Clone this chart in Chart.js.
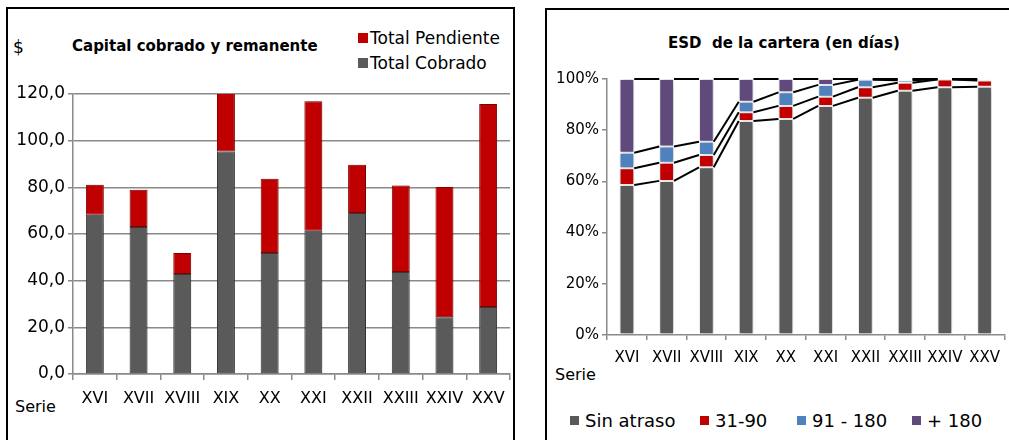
<!DOCTYPE html>
<html>
<head>
<meta charset="utf-8">
<script src="https://cdn.jsdelivr.net/npm/chart.js@4.4.1/dist/chart.umd.min.js"></script>
<style>
  html, body { margin: 0; padding: 0; background: #fff; }
  body { width: 1009px; height: 440px; position: relative; overflow: hidden; font-family: "DejaVu Sans", sans-serif; color: #000; }
  .frame { position: absolute; border: 2px solid #000; box-sizing: border-box; }
  .txt { position: absolute; white-space: pre; line-height: 1; transform: translateY(-50%); }
  .sq { position: absolute; }
  .wrap { position: absolute; }
</style>
</head>
<body>
  <!-- frames -->
  <div class="frame" style="left:6px; top:7px; width:509px; height:450px;"></div>
  <div class="frame" style="left:545px; top:8px; width:480px; height:450px;"></div>

  <!-- left chart texts -->
  <div class="txt" style="left:13px; top:47px; font-size:17px;">$</div>
  <div class="txt" style="left:72px; top:46px; font-size:15px; font-weight:bold;">Capital cobrado y remanente</div>
  <div class="sq" style="left:358px; top:33px; width:10px; height:10px; background:#c00000;"></div>
  <div class="txt" style="left:370px; top:38px; font-size:17px;">Total Pendiente</div>
  <div class="sq" style="left:358px; top:58px; width:10px; height:10px; background:#5a5a5a;"></div>
  <div class="txt" style="left:370px; top:63px; font-size:17px;">Total Cobrado</div>
  <div class="txt" style="left:15px; top:407px; font-size:16px;">Serie</div>

  <!-- right chart texts -->
  <div class="txt" style="left:668px; top:43px; font-size:15px; font-weight:bold;">ESD  de la cartera (en días)</div>
  <div class="txt" style="left:555px; top:375px; font-size:16px;">Serie</div>
  <div id="legend-right"></div>

  <div class="wrap" style="left:6px; top:80px; width:510px; height:350px;"><canvas id="left"></canvas></div>
  <div class="wrap" style="left:547px; top:60px; width:462px; height:320px;"><canvas id="right"></canvas></div>

<script>
// ── Data ─────────────────────────────────────────────────────
const SERIES = ['XVI', 'XVII', 'XVIII', 'XIX', 'XX', 'XXI', 'XXII', 'XXIII', 'XXIV', 'XXV'];

// left: capital cobrado / pendiente
const COBRADO   = [68.3, 63.0, 42.9, 95.4, 51.9, 61.4, 69.0, 43.7, 24.3, 28.7];
const PENDIENTE = [12.8, 16.0,  9.0, 26.0, 31.8, 55.5, 20.7, 37.1, 55.8, 87.0];
const LEFT_TICKS = [0, 20, 40, 60, 80, 100, 120];

// right: ESD % by bucket
const SIN_ATRASO = [58.6, 60.2, 65.5, 83.6, 84.4, 89.5, 92.7, 95.4, 96.8, 97.0];
const D31_90     = [ 6.5,  7.1,  4.8,  3.4,  5.1,  3.6,  4.1,  3.1,  3.0,  2.4];
const D91_180    = [ 6.1,  6.3,  5.2,  4.1,  5.3,  4.6,  2.9,  1.0,  0.1,  0.3];
const D180       = [28.8, 26.4, 24.5,  8.9,  5.2,  2.3,  0.3,  0.5,  0.1,  0.3];
const RIGHT_LEGEND = ['Sin atraso', '31-90', '91 - 180', '+ 180'];
const RIGHT_COLORS = ['#595959', '#c00000', '#4f81bd', '#604a7b'];

// ── Legend (right) ───────────────────────────────────────────
const LEG_X = [570, 700, 797, 912];
document.getElementById('legend-right').innerHTML = RIGHT_LEGEND.map((t, i) => `
  <div class="sq" style="left:${LEG_X[i]}px; top:416px; width:9px; height:9px; background:${RIGHT_COLORS[i]};"></div>
  <div class="txt" style="left:${LEG_X[i] + 15}px; top:421px; font-size:18px;">${t}</div>`).join('');

// ── Plugins ──────────────────────────────────────────────────
const barShadow = {
  id: 'barShadow',
  beforeDatasetsDraw(chart) {
    const ctx = chart.ctx;
    ctx.save();
    ctx.shadowColor = 'rgba(0,0,0,0.28)';
    ctx.shadowBlur = 5;
    ctx.shadowOffsetX = 1;
    ctx.shadowOffsetY = 0;
  },
  afterDatasetsDraw(chart) { chart.ctx.restore(); }
};

// Excel-style series lines between stacked bars
const seriesLines = {
  id: 'seriesLines',
  afterDatasetsDraw(chart) {
    const ctx = chart.ctx;
    ctx.save();
    ctx.strokeStyle = '#000';
    ctx.lineWidth = 2;
    chart.data.datasets.forEach((ds, k) => {
      const bars = chart.getDatasetMeta(k).data;
      for (let i = 0; i < bars.length - 1; i++) {
        const a = bars[i], b = bars[i + 1];
        ctx.beginPath();
        ctx.moveTo(a.x + a.width / 2, a.y);
        ctx.lineTo(b.x - b.width / 2, b.y);
        ctx.stroke();
      }
    });
    ctx.restore();
  }
};

const AXIS_GREY = '#8a8a8a';
const font = size => ({ family: '"DejaVu Sans", sans-serif', size });

// ── Left chart ───────────────────────────────────────────────
new Chart(document.getElementById('left'), {
  type: 'bar',
  data: {
    labels: SERIES,
    datasets: [
      { label: 'Total Cobrado',   data: COBRADO,   backgroundColor: '#5a5a5a', borderColor: '#3c3c3c', borderWidth: 1, borderSkipped: false },
      { label: 'Total Pendiente', data: PENDIENTE, backgroundColor: '#c00000', borderColor: '#8e0000', borderWidth: 1, borderSkipped: false },
    ]
  },
  options: {
    responsive: true,
    maintainAspectRatio: false,
    animation: false,
    datasets: { bar: { categoryPercentage: 1, barPercentage: 0.41 } },
    layout: { padding: { top: 14, right: 6, left: 0, bottom: 0 } },
    plugins: { legend: { display: false }, tooltip: { enabled: false } },
    scales: {
      x: {
        stacked: true,
        afterFit: s => { s.height = 56; },
        grid: { offset: true, drawOnChartArea: false, drawTicks: true, tickLength: 6, color: AXIS_GREY, lineWidth: 1.5 },
        border: { color: AXIS_GREY, width: 1.5 },
        ticks: { color: '#000', font: font(16), padding: 9, maxRotation: 0, autoSkip: false }
      },
      y: {
        stacked: true,
        min: 0, max: 120,
        afterFit: s => { s.width = 67; },
        afterBuildTicks: s => { s.ticks = LEFT_TICKS.map(v => ({ value: v })); },
        grid: { color: AXIS_GREY, lineWidth: 1.5, tickLength: 5 },
        border: { color: AXIS_GREY, width: 1.5 },
        ticks: { color: '#000', font: font(17), padding: 3, callback: v => v.toFixed(1).replace('.', ',') }
      }
    }
  },
  plugins: [barShadow]
});

// ── Right chart ──────────────────────────────────────────────
const rightSets = [SIN_ATRASO, D31_90, D91_180, D180];
new Chart(document.getElementById('right'), {
  type: 'bar',
  data: {
    labels: SERIES,
    datasets: rightSets.map((d, i) => ({
      label: RIGHT_LEGEND[i], data: d, backgroundColor: RIGHT_COLORS[i],
      borderColor: '#ffffff', borderWidth: 1, borderSkipped: false
    }))
  },
  options: {
    responsive: true,
    maintainAspectRatio: false,
    animation: false,
    datasets: { bar: { categoryPercentage: 1, barPercentage: 0.37 } },
    layout: { padding: { top: 19, right: 0, left: 0, bottom: 0 } },
    plugins: { legend: { display: false }, tooltip: { enabled: false } },
    scales: {
      x: {
        stacked: true,
        afterFit: s => { s.height = 45; },
        grid: { offset: true, drawOnChartArea: false, drawTicks: true, tickLength: 5, color: AXIS_GREY, lineWidth: 1.5 },
        border: { color: AXIS_GREY, width: 1.5 },
        ticks: { color: '#000', font: font(15), padding: 9, maxRotation: 0, autoSkip: false }
      },
      y: {
        stacked: true,
        min: 0, max: 100,
        afterFit: s => { s.width = 60; },
        grid: { drawOnChartArea: false, drawTicks: true, tickLength: 5, color: AXIS_GREY, lineWidth: 1.5 },
        border: { color: AXIS_GREY, width: 1.5 },
        ticks: { color: '#000', font: font(15), padding: 3, stepSize: 20, callback: v => v + '%' }
      }
    }
  },
  plugins: [barShadow, seriesLines]
});
</script>
</body>
</html>
